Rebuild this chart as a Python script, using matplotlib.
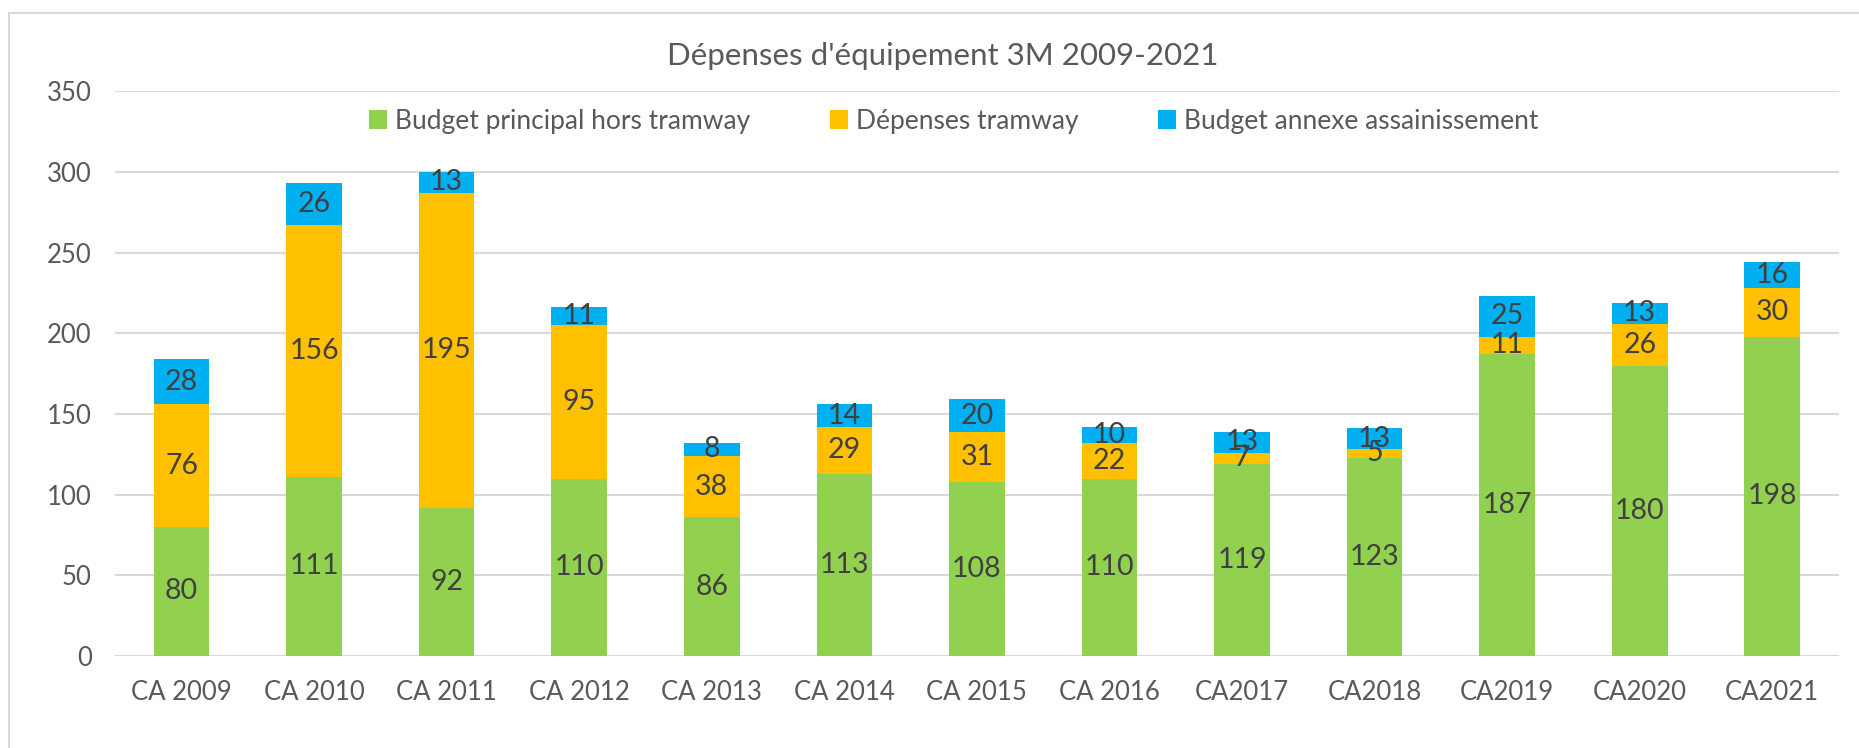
import matplotlib
matplotlib.use("Agg")
import matplotlib.pyplot as plt
import matplotlib.patches as patches
import numpy as np

# Data
categories = ['CA 2009', 'CA 2010', 'CA 2011', 'CA 2012', 'CA 2013', 'CA 2014', 'CA 2015',
              'CA 2016', 'CA2017', 'CA2018', 'CA2019', 'CA2020', 'CA2021']
principal = [80, 111, 92, 110, 86, 113, 108, 110, 119, 123, 187, 180, 198]
tramway = [76, 156, 195, 95, 38, 29, 31, 22, 7, 5, 11, 26, 30]
assainissement = [28, 26, 13, 11, 8, 14, 20, 10, 13, 13, 25, 13, 16]
series_names = ['Budget principal hors tramway', 'Dépenses tramway', 'Budget annexe assainissement']

plt.rcParams['font.family'] = ['Lato', 'DejaVu Sans']

fig = plt.figure(figsize=(18.59, 7.48), dpi=100, facecolor='white')
ax = fig.add_axes([0.062, 0.123, 0.927, 0.755])

x = np.arange(len(categories))
w = 0.42
colors = ['#92D050', '#FFC000', '#00B0F0']
bottom = np.zeros(len(categories))
for vals, col, name in zip([principal, tramway, assainissement], colors, series_names):
    v = np.array(vals)
    ax.bar(x, v, w, bottom=bottom, color=col, label=name, zorder=3)
    for xi, b, val in zip(x, bottom, v):
        ax.text(xi, b + val / 2, str(val), ha='center', va='center',
                fontsize=20.5, color='#404040', zorder=4)
    bottom = bottom + v

ax.set_xlim(-0.5, len(categories) - 0.5)
ax.set_ylim(0, 350)
ax.set_yticks(range(0, 351, 50))
ax.yaxis.grid(True, color='#D9D9D9', linewidth=1.5, zorder=0)
for s in ax.spines.values():
    s.set_visible(False)
ax.tick_params(axis='both', length=0, labelsize=18.5, colors='#595959')
ax.tick_params(axis='x', pad=17)
ax.tick_params(axis='y', pad=17)
ax.set_xticks(x)
ax.set_xticklabels(categories)

fig.text(0.507, 0.925, "Dépenses d'équipement 3M 2009-2021", ha='center', va='center',
         fontsize=22.5, color='#595959')
fig.legend(loc='center', bbox_to_anchor=(0.513, 0.838), ncol=3, frameon=False,
           fontsize=19, labelcolor='#595959', handlelength=0.7, handleheight=0.7,
           handletextpad=0.3, columnspacing=3.0)

# outer chart border
border = patches.Rectangle((9 / 1859, -0.05), 1.1, 1 - 13 / 748 + 0.05, fill=False,
                           edgecolor='#D9D9D9', linewidth=1.5, transform=fig.transFigure)
fig.add_artist(border)

fig.savefig('out.png', dpi=100, facecolor='white')
